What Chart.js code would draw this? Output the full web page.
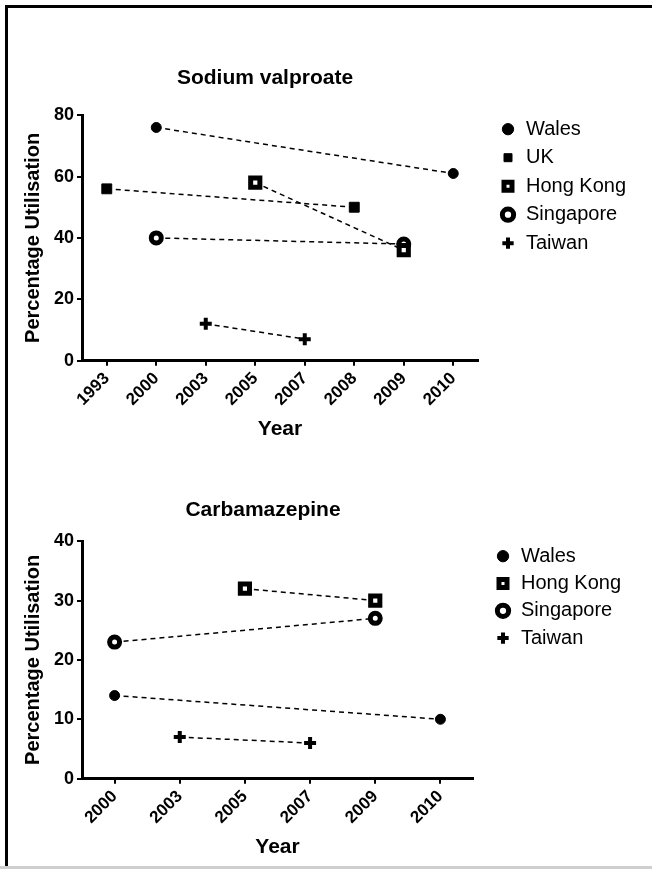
<!DOCTYPE html>
<html>
<head>
<meta charset="utf-8">
<script src="https://cdn.jsdelivr.net/npm/chart.js@4"></script>
<style>
  html, body { margin: 0; padding: 0; background: #fff; }
  body { width: 652px; height: 869px; position: relative; overflow: hidden; }
  .frame { position: absolute; left: 5px; top: 5px; width: 647px; height: 864px;
           border-top: 3px solid #000; border-left: 3px solid #000; box-sizing: border-box; }
  .foot { position: absolute; left: 0; top: 866px; width: 652px; height: 3px; background: #cfcfcf; }
  canvas { position: absolute; }
</style>
</head>
<body>
<div class="frame"></div>
<div class="foot"></div>
<canvas id="valproateChart" width="644" height="442" style="left:8px;top:10px"></canvas>
<canvas id="carbamazepineChart" width="644" height="412" style="left:8px;top:455px"></canvas>
<script>
// Sodium valproate
const svYears = ['1993', '2000', '2003', '2005', '2007', '2008', '2009', '2010'];
const svWales = [null, 76, null, null, null, null, null, 61];
const svUK = [56, null, null, null, null, 50, null, null];
const svHongKong = [null, null, null, 58, null, null, 36, null];
const svSingapore = [null, 40, null, null, null, null, 38, null];
const svTaiwan = [null, null, 12, null, 7, null, null, null];
const svTicks = [0, 20, 40, 60, 80];

// Carbamazepine
const cbYears = ['2000', '2003', '2005', '2007', '2009', '2010'];
const cbWales = [14, null, null, null, null, 10];
const cbHongKong = [null, null, 32, null, 30, null];
const cbSingapore = [23, null, null, null, 27, null];
const cbTaiwan = [null, 7, null, 6, null, null];
const cbTicks = [0, 10, 20, 30, 40];

Chart.defaults.font.family = '"Liberation Sans", Arial, sans-serif';
Chart.defaults.color = '#000';

// marker looks, keyed by country
const markers = {
  'Wales':     { pointStyle: 'circle', pointRadius: 5, pointBorderWidth: 1, pointBackgroundColor: '#000' },
  'UK':        { pointStyle: 'rect', pointRadius: 7, pointBorderWidth: 1, pointBackgroundColor: '#000' },
  'Hong Kong': { pointStyle: 'rect', pointRadius: 6.5, pointBorderWidth: 5, pointBackgroundColor: '#fff' },
  'Singapore': { pointStyle: 'circle', pointRadius: 5, pointBorderWidth: 5, pointBackgroundColor: '#fff' },
  'Taiwan':    { pointStyle: 'cross', pointRadius: 6, pointBorderWidth: 4, pointBackgroundColor: '#000' }
};

function series(label, data) {
  return Object.assign({
    label: label,
    data: data,
    borderColor: '#000',
    borderWidth: 1.5,
    borderDash: [5, 4],
    pointBorderColor: '#000',
    spanGaps: true,
    fill: false,
    tension: 0
  }, markers[label]);
}

// moves the legend next to the plot area (legend clips to its own box, so widen it)
const placeLegend = {
  id: 'placeLegend',
  beforeDraw(chart, args, opts) {
    const lg = chart.legend;
    if (!lg) return;
    const h = lg.height;
    lg.left = chart.chartArea.right + opts.dx;
    lg.top = chart.chartArea.top + opts.dy;
    lg.right = chart.width;
    lg.width = lg.right - lg.left;
    lg.bottom = lg.top + h;
  }
};

function makeChart(id, cfg) {
  const ctx = document.getElementById(id).getContext('2d');
  return new Chart(ctx, {
    type: 'line',
    data: { labels: cfg.labels, datasets: cfg.datasets },
    plugins: [placeLegend],
    options: {
      responsive: false,
      animation: false,
      layout: { padding: cfg.padding },
      plugins: {
        title: {
          display: true,
          text: cfg.title,
          font: { size: 21, weight: 'bold' },
          padding: cfg.titlePad
        },
        legend: {
          position: 'right',
          align: 'start',
          maxWidth: cfg.legendWidth,
          labels: {
            usePointStyle: true,
            boxWidth: 16,
            boxHeight: 8,
            padding: cfg.legendGap,
            font: { size: 20 }
          }
        },
        placeLegend: cfg.legendPos,
        tooltip: { enabled: false }
      },
      scales: {
        x: {
          offset: true,
          grid: { display: true, drawOnChartArea: false, drawTicks: true, tickLength: 5, color: '#000', lineWidth: 2 },
          border: { display: true, color: '#000', width: 3 },
          ticks: { minRotation: 45, maxRotation: 45, padding: 3, font: { size: 17, weight: 'bold' } },
          title: { display: true, text: 'Year', font: { size: 21, weight: 'bold' }, padding: { top: 4, bottom: 4 } }
        },
        y: {
          min: cfg.ticks[0],
          max: cfg.ticks[cfg.ticks.length - 1],
          afterBuildTicks: function(scale) {
            scale.ticks = cfg.ticks.map(v => ({ value: v }));
          },
          grid: { display: true, drawOnChartArea: false, drawTicks: true, tickLength: 5, color: '#000', lineWidth: 2 },
          border: { display: true, color: '#000', width: 3 },
          ticks: { padding: 3, font: { size: 18, weight: 'bold' } },
          title: { display: true, text: 'Percentage Utilisation', font: { size: 20, weight: 'bold' }, padding: { top: 3, bottom: 6 } }
        }
      }
    }
  });
}

makeChart('valproateChart', {
  title: 'Sodium valproate',
  labels: svYears,
  ticks: svTicks,
  datasets: [
    series('Wales', svWales),
    series('UK', svUK),
    series('Hong Kong', svHongKong),
    series('Singapore', svSingapore),
    series('Taiwan', svTaiwan)
  ],
  padding: { left: 10, right: 140, top: 0, bottom: 6 },
  titlePad: { top: 56, bottom: 24 },
  legendWidth: 34,
  legendGap: 8.5,
  legendPos: { dx: 13.5, dy: -4.5 }
});

makeChart('carbamazepineChart', {
  title: 'Carbamazepine',
  labels: cbYears,
  ticks: cbTicks,
  datasets: [
    series('Wales', cbWales),
    series('Hong Kong', cbHongKong),
    series('Singapore', cbSingapore),
    series('Taiwan', cbTaiwan)
  ],
  padding: { left: 10, right: 144, top: 0, bottom: 3 },
  titlePad: { top: 43, bottom: 18 },
  legendWidth: 35,
  legendGap: 7.3,
  legendPos: { dx: 14.7, dy: -2.3 }
});
</script>
</body>
</html>
